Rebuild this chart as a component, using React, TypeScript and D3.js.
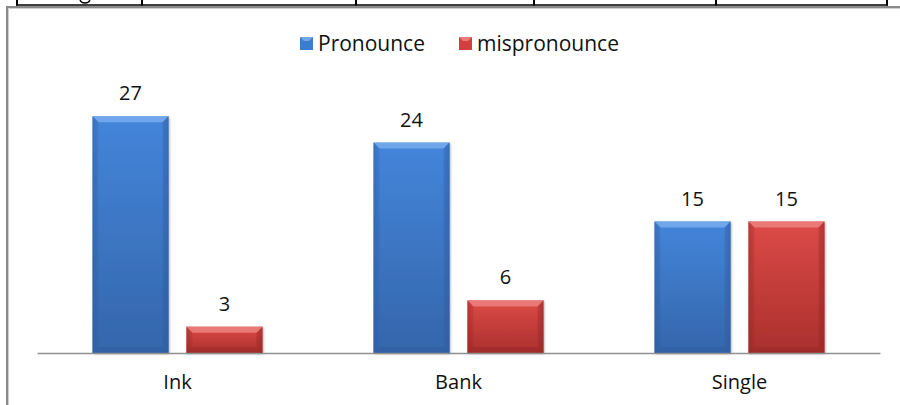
import React, { useEffect, useRef } from "react";
import * as d3 from "d3";

const categories = ["Ink", "Bank", "Single"];
const seriesNames = ["Pronounce", "mispronounce"];
const pronounce = [27, 24, 15];
const mispronounce = [3, 6, 15];
const yMax = 30;

const W = 900;
const H = 405;
const FONT = "'Open Sans', 'Noto Sans', sans-serif";

const palette: Record<string, { main: string; top: string; bottom: string; light: string; dark: string }> = {
  Pronounce: { main: "#3d7dcf", top: "#4485da", bottom: "#3466ab", light: "#7fb2f0", dark: "#2d5a9a" },
  mispronounce: { main: "#d2403d", top: "#dc4a46", bottom: "#aa302e", light: "#f08a86", dark: "#8f2624" },
};

export default function App() {
  const ref = useRef<SVGSVGElement | null>(null);

  useEffect(() => {
    const svg = d3.select(ref.current);
    svg.selectAll("*").remove();

    const defs = svg.append("defs");
    seriesNames.forEach((s, i) => {
      const c = palette[s];
      const g = defs.append("linearGradient").attr("id", `grad${i}`).attr("x1", 0).attr("y1", 0).attr("x2", 0).attr("y2", 1);
      g.append("stop").attr("offset", "0%").attr("stop-color", c.top);
      g.append("stop").attr("offset", "100%").attr("stop-color", c.bottom);
      const h = defs.append("linearGradient").attr("id", `hgrad${i}`).attr("x1", 0).attr("y1", 0).attr("x2", 1).attr("y2", 0);
      h.append("stop").attr("offset", "0%").attr("stop-color", c.dark).attr("stop-opacity", 0.35);
      h.append("stop").attr("offset", "8%").attr("stop-color", c.dark).attr("stop-opacity", 0);
      h.append("stop").attr("offset", "92%").attr("stop-color", c.dark).attr("stop-opacity", 0);
      h.append("stop").attr("offset", "100%").attr("stop-color", c.dark).attr("stop-opacity", 0.35);
    });
    const filt = defs.append("filter").attr("id", "shadow").attr("x", "-20%").attr("y", "-20%").attr("width", "140%").attr("height", "140%");
    filt.append("feDropShadow").attr("dx", 1).attr("dy", 1).attr("stdDeviation", 1.2).attr("flood-color", "#000").attr("flood-opacity", 0.3);

    svg.append("rect").attr("width", W).attr("height", H).attr("fill", "#fff");

    // table fragment at top
    const tableCols = [17, 142, 356, 534, 716, 887];
    svg.append("path").attr("d", "M80,0 Q81,3 85,3 Q89,3 90,0").attr("fill", "none").attr("stroke", "#000").attr("stroke-width", 1.3);
    svg.append("line").attr("x1", 16).attr("x2", 888).attr("y1", 5).attr("y2", 5).attr("stroke", "#000").attr("stroke-width", 1.5);
    tableCols.forEach((x) => {
      svg.append("line").attr("x1", x).attr("x2", x).attr("y1", 0).attr("y2", 5.5).attr("stroke", "#000").attr("stroke-width", 2);
    });

    // chart border
    svg.append("path").attr("d", `M7,${H + 5} V7 H${W + 5}`).attr("fill", "none").attr("stroke", "#8a8a8a").attr("stroke-width", 2);
    svg.append("path").attr("d", `M8.5,${H + 5} V8.5 H${W + 5}`).attr("fill", "none").attr("stroke", "#cfcfcf").attr("stroke-width", 1);

    const baseY = 353;
    const x0 = d3.scaleBand<string>().domain(categories).range([37, 880]).paddingInner(0).paddingOuter(0);
    const x1 = d3.scaleBand<string>().domain(seriesNames).range([55.5, 225.5]).paddingInner(0.19).paddingOuter(0);
    const y = d3.scaleLinear().domain([0, yMax]).range([baseY, 90]);

    const seriesData = [pronounce, mispronounce];
    const bw = x1.bandwidth();
    seriesNames.forEach((s, si) => {
      const c = palette[s];
      categories.forEach((cat, ci) => {
        const v = seriesData[si][ci];
        const bx = (x0(cat) as number) + (x1(s) as number);
        const by = y(v);
        const bh = baseY - by;
        const g = svg.append("g");
        g.append("rect").attr("x", bx).attr("y", by).attr("width", bw).attr("height", bh).attr("fill", `url(#grad${si})`).attr("filter", "url(#shadow)");
        g.append("rect").attr("x", bx).attr("y", by).attr("width", bw).attr("height", bh).attr("fill", `url(#hgrad${si})`);
        const b = Math.min(6, bh / 3);
        g.append("path")
          .attr("d", `M${bx},${by} H${bx + bw} L${bx + bw - b},${by + b} H${bx + b} Z`)
          .attr("fill", c.light).attr("opacity", 0.75);
        g.append("path")
          .attr("d", `M${bx},${baseY} H${bx + bw} L${bx + bw - b},${baseY - b} H${bx + b} Z`)
          .attr("fill", c.dark).attr("opacity", 0.35);
        g.append("path")
          .attr("d", `M${bx},${by} L${bx + b},${by + b} V${baseY - b} L${bx},${baseY} Z`)
          .attr("fill", c.dark).attr("opacity", 0.18);
        g.append("path")
          .attr("d", `M${bx + bw},${by} L${bx + bw - b},${by + b} V${baseY - b} L${bx + bw},${baseY} Z`)
          .attr("fill", c.dark).attr("opacity", 0.3);
        svg.append("text")
          .attr("x", bx + bw / 2).attr("y", by - 16)
          .attr("text-anchor", "middle").attr("font-family", FONT).attr("font-size", 20).attr("fill", "#111")
          .text(String(v));
      });
    });

    // x axis
    const axis = d3.axisBottom(x0).tickSize(0).tickSizeOuter(0).tickPadding(22);
    const ax = svg.append("g").attr("transform", `translate(0,${baseY})`).call(axis);
    ax.select(".domain").attr("stroke", "#909090").attr("stroke-width", 1.5);
    ax.selectAll("text").attr("font-family", FONT).attr("font-size", 20).attr("fill", "#111");

    // legend
    const legendX = [300, 459];
    seriesNames.forEach((s, i) => {
      const c = palette[s];
      const lg = svg.append("g").attr("transform", `translate(${legendX[i]},37)`);
      lg.append("rect").attr("x", 0).attr("y", 0).attr("width", 13).attr("height", 13).attr("fill", c.main);
      lg.append("path").attr("d", "M0,0 H13 L9,4 H4 Z").attr("fill", c.light).attr("opacity", 0.8);
      lg.append("text").attr("x", 18).attr("y", 14).attr("font-family", FONT).attr("font-size", 21).attr("fill", "#111").text(s);
    });
  }, []);

  return (
    <svg
      ref={ref}
      width={W}
      height={H}
      style={{ position: "absolute", left: 0, top: 0, display: "block" }}
    />
  );
}
